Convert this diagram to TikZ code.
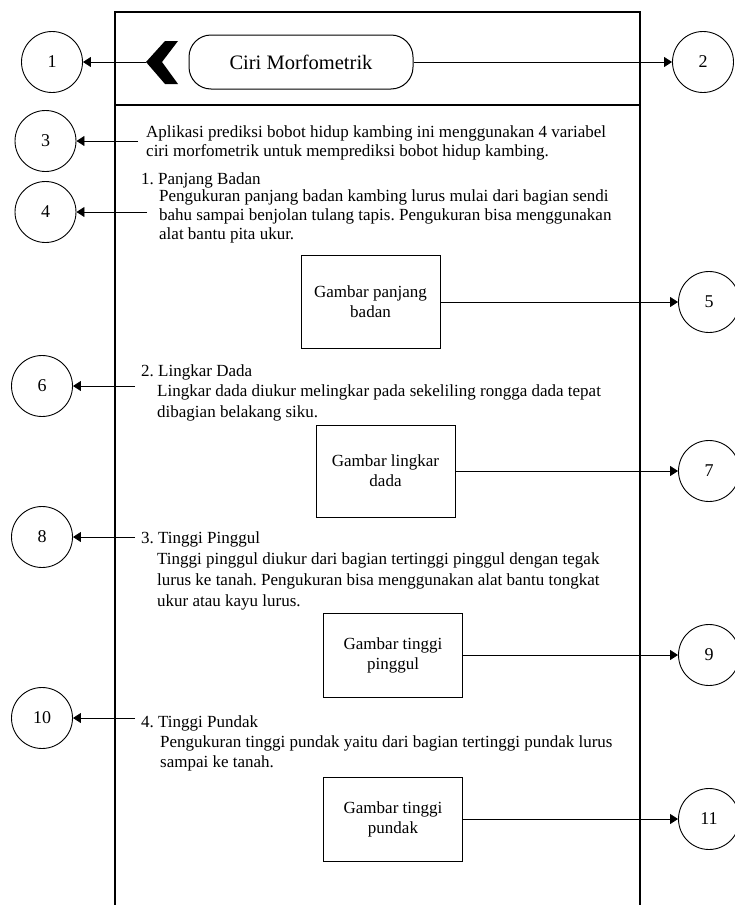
\documentclass[tikz,border=0pt]{standalone}
\usepackage{fontspec}
\setmainfont{Liberation Serif}
\usetikzlibrary{arrows.meta}
\frenchspacing

\tikzset{
  num/.style={draw, circle, minimum size=61pt, inner sep=0pt, line width=0.9pt,
    font=\fontsize{18}{20}\selectfont},
  imgbox/.style={draw, rectangle, line width=1pt, align=center, inner sep=0pt,
    minimum width=139pt, font=\fontsize{17}{20}\selectfont},
  desc/.style={anchor=base west, align=left, inner sep=0pt,
    font=\fontsize{17}{20}\selectfont},
  link/.style={-{Triangle[length=8pt,width=10pt]}, line width=0.9pt},
}

\begin{document}
\begin{tikzpicture}[x=1pt, y=-1pt]
    \useasboundingbox (0,0) rectangle (735,905);

    % Frame
    \def\fL{115}
    \def\fR{640}
    \draw[line width=1.2pt] (\fL,930) -- (\fL,12) -- (\fR,12) -- (\fR,930);
    \draw[line width=1.6pt] (\fL,105) -- (\fR,105);

    % Header
    \node[draw, rounded corners=22pt, minimum width=224pt, minimum height=54pt,
        line width=1pt, font=\fontsize{20.5}{24}\selectfont] (title) at (301,62) {Ciri Morfometrik};
    \fill (146,62) -- (165,41) -- (178,41) -- (162,62) -- (178,84) -- (165,84) -- cycle;
    \coordinate (chev) at (146,62);

    % Numbered circles, left
    \node[num] (c1) at (52,62) {1};
    \node[num] (c3) at (45.5,141) {3};
    \node[num] (c4) at (45.5,212) {4};
    \node[num] (c6) at (42,386) {6};
    \node[num] (c8) at (42,537) {8};
    \node[num] (c10) at (42,718) {10};

    % Numbered circles, right
    \node[num] (c2) at (703,62) {2};
    \node[num] (c5) at (709,302) {5};
    \node[num] (c7) at (709,471) {7};
    \node[num] (c9) at (709,655) {9};
    \node[num] (c11) at (709,819) {11};

    % Texts (base = baseline of the last line)
    \node[desc, font=\fontsize{17}{19}\selectfont] (intro) at (146,156)
        {Aplikasi prediksi bobot hidup kambing ini menggunakan 4 variabel\\
        ciri morfometrik untuk memprediksi bobot hidup kambing.};

    \node[desc] (h1) at (141,184) {1. Panjang Badan};
    \node[desc, font=\fontsize{17}{18.7}\selectfont] (d1) at (159,239)
        {Pengukuran panjang badan kambing lurus mulai dari bagian sendi\\
        bahu sampai benjolan tulang tapis. Pengukuran bisa menggunakan\\
        alat bantu pita ukur.};

    \node[desc] (h2) at (141,376) {2. Lingkar Dada};
    \node[desc, font=\fontsize{17}{21}\selectfont] (d2) at (157,417)
        {Lingkar dada diukur melingkar pada sekeliling rongga dada tepat\\
        dibagian belakang siku.};

    \node[desc] (h3) at (141,543) {3. Tinggi Pinggul};
    \node[desc, font=\fontsize{17}{21}\selectfont] (d3) at (157,606)
        {Tinggi pinggul diukur dari bagian tertinggi pinggul dengan tegak\\
        lurus ke tanah. Pengukuran bisa menggunakan alat bantu tongkat\\
        ukur atau kayu lurus.};

    \node[desc] (h4) at (141,727) {4. Tinggi Pundak};
    \node[desc] (d4) at (160,767)
        {Pengukuran tinggi pundak yaitu dari bagian tertinggi pundak lurus\\
        sampai ke tanah.};

    % Picture boxes
    \node[imgbox, minimum height=93pt] (b1) at (370.5,302) {Gambar panjang\\badan};
    \node[imgbox, minimum height=92pt] (b2) at (385.5,471) {Gambar lingkar\\dada};
    \node[imgbox, minimum height=84pt] (b3) at (393,655) {Gambar tinggi\\pinggul};
    \node[imgbox, minimum height=84pt] (b4) at (393,819) {Gambar tinggi\\pundak};

    % Start points of the left arrows
    \coordinate (s3) at (138,141);
    \coordinate (s4) at (147,212);
    \coordinate (s6) at (135,386);
    \coordinate (s8) at (135,537);
    \coordinate (s10) at (135,718);

    % Arrows
    \draw[link] (chev) -- (c1);
    \draw[link] (title) -- (c2);
    \draw[link] (s3) -- (c3);
    \draw[link] (s4) -- (c4);
    \draw[link] (s6) -- (c6);
    \draw[link] (s8) -- (c8);
    \draw[link] (s10) -- (c10);
    \draw[link] (b1) -- (c5);
    \draw[link] (b2) -- (c7);
    \draw[link] (b3) -- (c9);
    \draw[link] (b4) -- (c11);

\end{tikzpicture}
\end{document}
